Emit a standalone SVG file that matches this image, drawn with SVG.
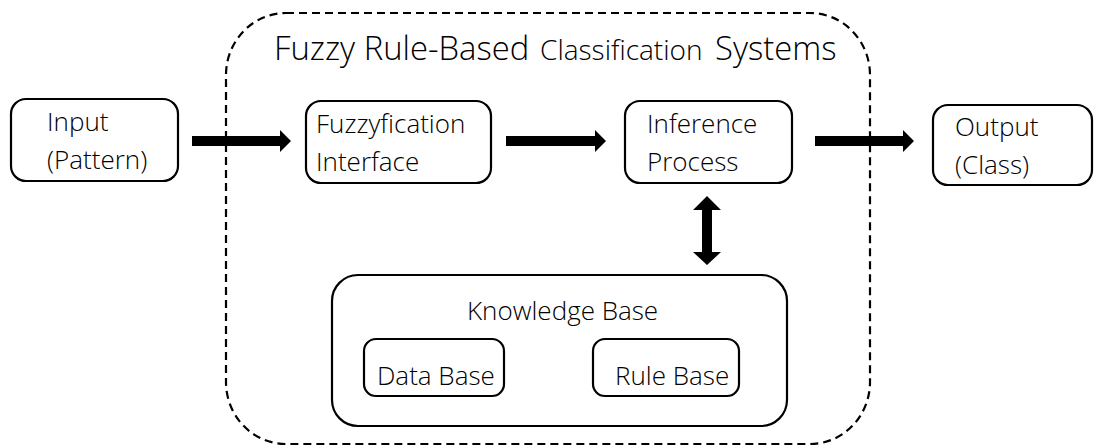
<svg xmlns="http://www.w3.org/2000/svg" width="1094" height="446" viewBox="0 0 1094 446">
  <style>
    .box { fill: #ffffff; stroke: #000000; stroke-width: 2.2; }
    .frame { fill: none; stroke: #000000; stroke-width: 2.2; stroke-dasharray: 8 5; }
    .lbl { font-family: "Open Sans", "Noto Sans", sans-serif; font-weight: 300; font-size: 26px; fill: #000000; }
    .big { font-family: "Open Sans", "Noto Sans", sans-serif; font-weight: 300; font-size: 32.8px; fill: #000000; }
    .small { font-size: 28px; }
    .arrow { fill: #000000; }
  </style>
  <rect width="1094" height="446" fill="#ffffff"/>

  <!-- system boundary -->
  <g id="system">
    <rect class="frame" x="226" y="13" width="644" height="431" rx="60" ry="62"/>
    <text class="big" x="274" y="60">Fuzzy Rule-Based</text>
    <text class="big small" x="540" y="60">Classification</text>
    <text class="big" x="715" y="60">Systems</text>
  </g>

  <g id="input">
    <rect class="box" x="11" y="99" width="167" height="82" rx="15"/>
    <text class="lbl" x="47" y="131">Input</text>
    <text class="lbl" x="47" y="169">(Pattern)</text>
  </g>

  <g id="fuzzyfication">
    <rect class="box" x="306" y="101" width="185" height="82" rx="15"/>
    <text class="lbl" x="316" y="133">Fuzzyfication</text>
    <text class="lbl" x="316" y="171">Interface</text>
  </g>

  <g id="inference">
    <rect class="box" x="625" y="101" width="167" height="82" rx="15"/>
    <text class="lbl" x="647" y="133">Inference</text>
    <text class="lbl" x="647" y="171">Process</text>
  </g>

  <g id="output">
    <rect class="box" x="933" y="105" width="159" height="80" rx="15"/>
    <text class="lbl" x="955" y="136">Output</text>
    <text class="lbl" x="955" y="174">(Class)</text>
  </g>

  <g id="knowledge-base">
    <rect class="box" x="332" y="275" width="455" height="151" rx="26"/>
    <text class="lbl" x="467" y="320">Knowledge Base</text>
  </g>

  <g id="data-base">
    <rect class="box" x="364" y="339" width="140" height="57" rx="12"/>
    <text class="lbl" x="377" y="385">Data Base</text>
  </g>

  <g id="rule-base">
    <rect class="box" x="593" y="339" width="146" height="57" rx="12"/>
    <text class="lbl" x="615" y="385">Rule Base</text>
  </g>

  <!-- block arrows -->
  <g id="connectors">
    <polygon class="arrow" points="192,136 280,136 280,130 291,141 280,152 280,146 192,146"/>
    <polygon class="arrow" points="506,136 595,136 595,130 606,141 595,152 595,146 506,146"/>
    <polygon class="arrow" points="815,136 903,136 903,130 914,141 903,152 903,146 815,146"/>
    <polygon class="arrow" points="707,196 721,210 712,210 712,252 721,252 707,265 693,252 702,252 702,210 693,210"/>
  </g>
</svg>
